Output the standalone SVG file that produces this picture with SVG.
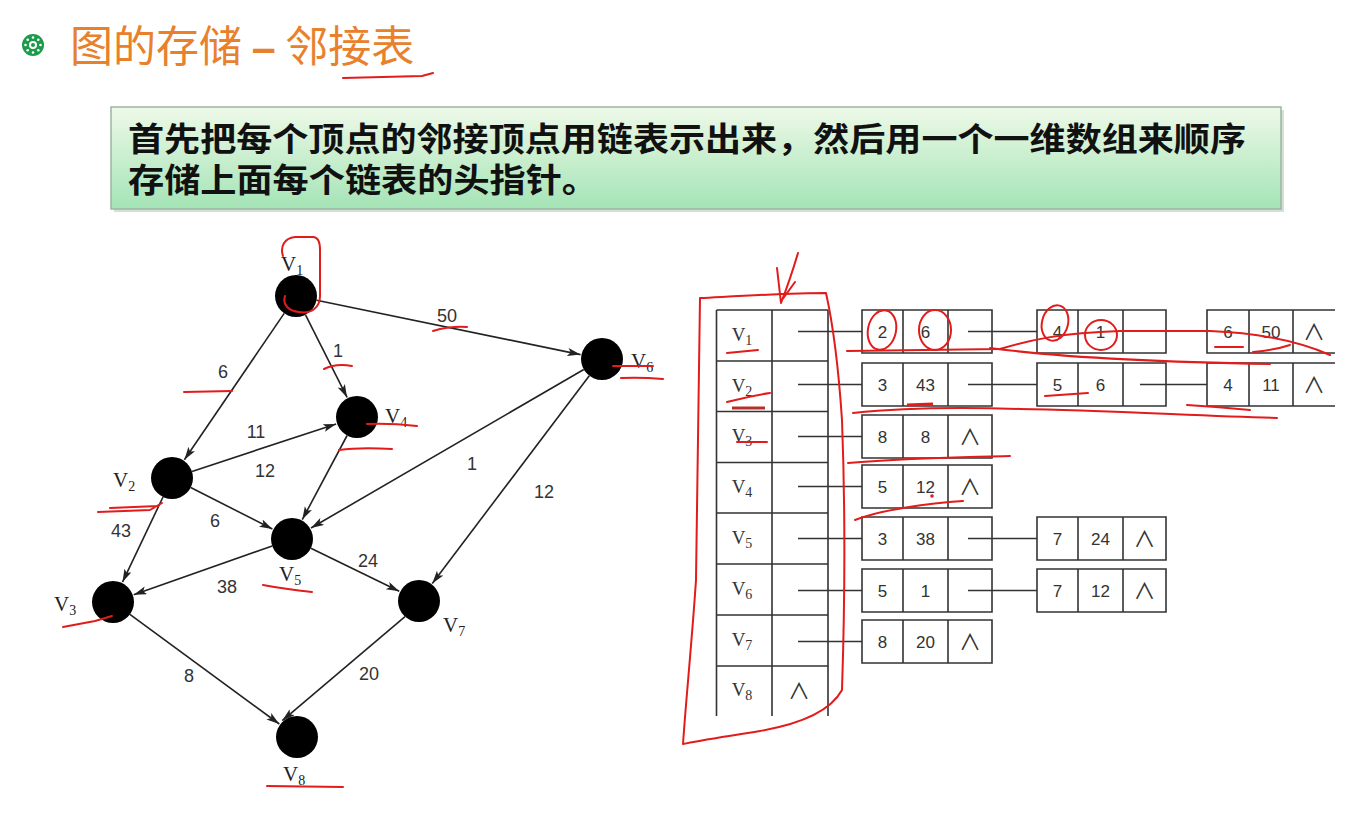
<svg xmlns="http://www.w3.org/2000/svg" width="1350" height="831" viewBox="0 0 1350 831">
<defs>
<linearGradient id="gbox" x1="0" y1="0" x2="0" y2="1">
<stop offset="0" stop-color="#eef9e8"/>
<stop offset="1" stop-color="#a4e4b6"/>
</linearGradient>
<marker id="arr" markerUnits="userSpaceOnUse" markerWidth="14" markerHeight="10" refX="13" refY="4" orient="auto">
<path d="M0,0 L13,4 L0,8 L3,4 z" fill="#222"/>
</marker>
</defs>
<style>
.edge{stroke:#222;stroke-width:1.6;fill:none;marker-end:url(#arr)}
.node{fill:#000}
.vl{font-family:"Liberation Serif",serif;font-size:21px;fill:#222}
.sub{font-size:14px}
.w{font-family:"Liberation Sans",sans-serif;font-size:18px;fill:#333;text-anchor:middle}
.tl{stroke:#333;stroke-width:1.6;fill:none}
.tv{font-family:"Liberation Serif",serif;font-size:19px;fill:#333;text-anchor:middle}
.tn{font-family:"Liberation Sans",sans-serif;font-size:17px;fill:#333;text-anchor:middle}
.nil{font-family:"Noto Sans CJK SC",sans-serif;font-size:22px;fill:#333;text-anchor:middle}
.red{stroke:#e21b1b;stroke-width:2;fill:none;stroke-linecap:round;stroke-linejoin:round}
.cjk{font-family:"Noto Sans CJK SC",sans-serif}
</style>
<rect width="1350" height="831" fill="#fff"/>

<g id="header">
<circle cx="33" cy="45" r="11" fill="#1c9b4c"/>
<circle cx="33" cy="45" r="4" fill="#fff"/>
<circle cx="33" cy="45" r="2" fill="#1c9b4c"/>
<g fill="#fff">
<circle cx="33" cy="37.5" r="1.3"/><circle cx="33" cy="52.5" r="1.3"/>
<circle cx="25.5" cy="45" r="1.3"/><circle cx="40.5" cy="45" r="1.3"/>
<circle cx="27.7" cy="39.7" r="1.3"/><circle cx="38.3" cy="39.7" r="1.3"/>
<circle cx="27.7" cy="50.3" r="1.3"/><circle cx="38.3" cy="50.3" r="1.3"/>
</g>
<text x="70" y="62" class="cjk" font-size="43" fill="#e8812c">图的存储 <tspan font-family="Liberation Sans" font-weight="bold">–</tspan> 邻接表</text>
<path class="red" d="M343,78 Q385,77 422,76 L433,73"/>
</g>

<g id="description">
<rect x="114" y="110" width="1170" height="102" fill="#b9c9bb" opacity="0.6"/>
<rect x="111" y="107" width="1170" height="102" fill="url(#gbox)" stroke="#9db59f" stroke-width="1.5"/>
<text class="cjk" font-size="33" font-weight="bold" fill="#111"><tspan x="128" y="151" textLength="1118" lengthAdjust="spacingAndGlyphs">首先把每个顶点的邻接顶点用链表示出来，然后用一个一维数组来顺序</tspan><tspan x="128" y="192" textLength="470" lengthAdjust="spacingAndGlyphs">存储上面每个链表的头指针。</tspan></text>
</g>

<g id="connectors">
<line class="edge" x1="284.2" y1="313.4" x2="184.4" y2="459.8"/>
<line class="edge" x1="305.5" y1="314.8" x2="347.1" y2="397.4"/>
<line class="edge" x1="316.6" y1="300.2" x2="580.5" y2="354.6"/>
<line class="edge" x1="192" y1="471.4" x2="336.1" y2="423.9"/>
<line class="edge" x1="190.7" y1="487.5" x2="272.4" y2="529"/>
<line class="edge" x1="163" y1="497" x2="122.5" y2="582.1"/>
<line class="edge" x1="347.1" y1="435.5" x2="302.3" y2="519.6"/>
<line class="edge" x1="583.8" y1="369.5" x2="311" y2="528"/>
<line class="edge" x1="589.3" y1="375.7" x2="432.3" y2="583.5"/>
<line class="edge" x1="272.2" y1="546" x2="133.7" y2="594.7"/>
<line class="edge" x1="310.9" y1="548.2" x2="399.2" y2="591.3"/>
<line class="edge" x1="129.9" y1="614.4" x2="279.3" y2="724"/>
<line class="edge" x1="405" y1="616.6" x2="282.3" y2="720.6"/>
<text class="w" x="447" y="322">50</text>
<text class="w" x="338" y="357">1</text>
<text class="w" x="223" y="378">6</text>
<text class="w" x="256" y="438">11</text>
<text class="w" x="265" y="477">12</text>
<text class="w" x="215" y="527">6</text>
<text class="w" x="121" y="537">43</text>
<text class="w" x="472" y="470">1</text>
<text class="w" x="544" y="498">12</text>
<text class="w" x="368" y="567">24</text>
<text class="w" x="227" y="593">38</text>
<text class="w" x="189" y="682">8</text>
<text class="w" x="369" y="680">20</text>
</g>

<g id="v1"><circle class="node" cx="296" cy="296" r="21"/><text class="vl" x="281" y="271">V<tspan class="sub" dy="4">1</tspan></text></g>
<g id="v2"><circle class="node" cx="172" cy="478" r="21"/><text class="vl" x="113" y="487">V<tspan class="sub" dy="4">2</tspan></text></g>
<g id="v3"><circle class="node" cx="113" cy="602" r="21"/><text class="vl" x="54" y="611">V<tspan class="sub" dy="4">3</tspan></text></g>
<g id="v4"><circle class="node" cx="357" cy="417" r="21"/><text class="vl" x="385" y="423">V<tspan class="sub" dy="4">4</tspan></text></g>
<g id="v5"><circle class="node" cx="292" cy="539" r="21"/><text class="vl" x="279" y="581">V<tspan class="sub" dy="4">5</tspan></text></g>
<g id="v6"><circle class="node" cx="602" cy="359" r="21"/><text class="vl" x="631" y="368">V<tspan class="sub" dy="4">6</tspan></text></g>
<g id="v7"><circle class="node" cx="419" cy="601" r="21"/><text class="vl" x="443" y="632">V<tspan class="sub" dy="4">7</tspan></text></g>
<g id="v8"><circle class="node" cx="297" cy="737" r="21"/><text class="vl" x="283" y="781">V<tspan class="sub" dy="4">8</tspan></text></g>

<g id="head-array">
<path class="tl" d="M716.5,310 V716 M772,310 V716 M828,310 V716 M716.5,310 H828 M716.5,361 H828 M716.5,411.5 H828 M716.5,462.5 H828 M716.5,513 H828 M716.5,564 H828 M716.5,615 H828 M716.5,666 H828"/>
<text class="tv" x="742" y="341">V<tspan class="sub" dy="4">1</tspan></text>
<text class="tv" x="742" y="392">V<tspan class="sub" dy="4">2</tspan></text>
<text class="tv" x="742" y="442">V<tspan class="sub" dy="4">3</tspan></text>
<text class="tv" x="742" y="493">V<tspan class="sub" dy="4">4</tspan></text>
<text class="tv" x="742" y="544">V<tspan class="sub" dy="4">5</tspan></text>
<text class="tv" x="742" y="595">V<tspan class="sub" dy="4">6</tspan></text>
<text class="tv" x="742" y="646">V<tspan class="sub" dy="4">7</tspan></text>
<text class="tv" x="742" y="696">V<tspan class="sub" dy="4">8</tspan></text>
<text class="nil" x="799" y="699">∧</text>
</g>

<g id="pointers">
<path class="tl" d="M798,331.5 H862 M798,384.5 H862 M798,436.5 H862 M798,486.5 H862 M798,538.5 H862 M798,590.5 H862 M798,641.5 H862"/>
<path class="tl" d="M968,331.5 H1037 M968,384.5 H1037 M968,538.5 H1037 M968,590.5 H1037 M1140,384.5 H1207"/>
</g>

<g id="list-v1">
<path class="tl" d="M862,310 H992 V353 H862 Z M903,310 V353 M948,310 V353"/>
<text class="tn" x="882.5" y="338">2</text><text class="tn" x="925.5" y="338">6</text>
<path class="tl" d="M1037,310 H1166 V353 H1037 Z M1078,310 V353 M1123,310 V353"/>
<text class="tn" x="1057.5" y="338">4</text><text class="tn" x="1100.5" y="338">1</text>
<path class="tl" d="M1335,310 H1207 V353 H1335 M1249,310 V353 M1293,310 V353"/>
<text class="tn" x="1228" y="338">6</text><text class="tn" x="1271" y="338">50</text><text class="nil" x="1314" y="340">∧</text>
</g>
<g id="list-v2">
<path class="tl" d="M862,363 H992 V406 H862 Z M903,363 V406 M948,363 V406"/>
<text class="tn" x="882.5" y="391">3</text><text class="tn" x="925.5" y="391">43</text>
<path class="tl" d="M1037,363 H1166 V406 H1037 Z M1078,363 V406 M1123,363 V406"/>
<text class="tn" x="1057.5" y="391">5</text><text class="tn" x="1100.5" y="391">6</text>
<path class="tl" d="M1335,363 H1207 V406 H1335 M1249,363 V406 M1293,363 V406"/>
<text class="tn" x="1228" y="391">4</text><text class="tn" x="1271" y="391">11</text><text class="nil" x="1314" y="393">∧</text>
</g>
<g id="list-v3">
<path class="tl" d="M862,415 H992 V458 H862 Z M903,415 V458 M948,415 V458"/>
<text class="tn" x="882.5" y="443">8</text><text class="tn" x="925.5" y="443">8</text><text class="nil" x="970" y="445">∧</text>
</g>
<g id="list-v4">
<path class="tl" d="M862,465 H992 V508 H862 Z M903,465 V508 M948,465 V508"/>
<text class="tn" x="882.5" y="493">5</text><text class="tn" x="925.5" y="493">12</text><text class="nil" x="970" y="495">∧</text>
</g>
<g id="list-v5">
<path class="tl" d="M862,517 H992 V560 H862 Z M903,517 V560 M948,517 V560"/>
<text class="tn" x="882.5" y="545">3</text><text class="tn" x="925.5" y="545">38</text>
<path class="tl" d="M1037,517 H1166 V560 H1037 Z M1078,517 V560 M1123,517 V560"/>
<text class="tn" x="1057.5" y="545">7</text><text class="tn" x="1100.5" y="545">24</text><text class="nil" x="1144.5" y="547">∧</text>
</g>
<g id="list-v6">
<path class="tl" d="M862,569 H992 V612 H862 Z M903,569 V612 M948,569 V612"/>
<text class="tn" x="882.5" y="597">5</text><text class="tn" x="925.5" y="597">1</text>
<path class="tl" d="M1037,569 H1166 V612 H1037 Z M1078,569 V612 M1123,569 V612"/>
<text class="tn" x="1057.5" y="597">7</text><text class="tn" x="1100.5" y="597">12</text><text class="nil" x="1144.5" y="599">∧</text>
</g>
<g id="list-v7">
<path class="tl" d="M862,620 H992 V663 H862 Z M903,620 V663 M948,620 V663"/>
<text class="tn" x="882.5" y="648">8</text><text class="tn" x="925.5" y="648">20</text><text class="nil" x="970" y="650">∧</text>
</g>

<g id="annotations">
<path class="red" d="M283,256 C280,247 284,238 295,237 L313,237 C319,237 320,243 320,250 L320,296 C320,308 311,314 299,312 C289,311 282,305 285,296"/>
<path class="red" d="M184,392 L232,391"/>
<path class="red" d="M324,369 Q336,363 352,366"/>
<path class="red" d="M433,331 Q450,326 467,327"/>
<path class="red" d="M613,366 L653,366 M621,378 Q640,377 663,379"/>
<path class="red" d="M367,424 Q390,423 417,426 M339,450 Q360,447 392,449"/>
<path class="red" d="M98,512 L150,510 L162,503 M110,508 L158,506"/>
<path class="red" d="M263,585 Q285,589 312,592"/>
<path class="red" d="M63,627 L95,621 L112,616"/>
<path class="red" d="M267,786 L343,787"/>
<path class="red" d="M700,298 C740,296 790,293 826,293 C832,320 838,360 842,420 C845,500 845,600 842,690 C830,712 800,724 760,731 C730,736 700,740 683,744 C686,700 692,640 696,580 C698,480 699,380 700,298"/>
<path class="red" d="M798,253 Q790,280 781,303 M777,268 L781,303 M795,282 L782,300"/>
<path class="red" d="M727,353 L758,350 M727,402 Q750,396 770,393 M737,442 L767,442"/>
<path stroke="#b5302a" stroke-width="3" fill="none" d="M732,408 L765,408"/>
<ellipse class="red" cx="882" cy="330" rx="14" ry="20" transform="rotate(12 882 330)"/>
<ellipse class="red" cx="935" cy="330" rx="16" ry="20"/>
<ellipse class="red" cx="1055" cy="323" rx="13" ry="18" transform="rotate(15 1055 323)"/>
<ellipse class="red" cx="1101" cy="335" rx="16" ry="15"/>
<path class="red" d="M847,351 L1000,349 C1030,340 1060,333 1120,331 L1210,331 C1260,333 1300,342 1330,355"/>
<path class="red" d="M990,348 C1050,356 1150,362 1270,364"/>
<path class="red" d="M1215,347 L1243,347 M1253,352 Q1275,350 1290,345"/>
<path class="red" d="M853,413 C900,408 960,407 1020,409 C1100,410 1200,416 1277,418"/>
<path class="red" d="M1045,396 L1088,393 M1187,405 Q1220,407 1250,410"/>
<path stroke="#e21b1b" stroke-width="3" fill="none" d="M907,405 L933,404"/>
<path class="red" d="M848,463 C900,458 960,457 1010,456"/>
<path class="red" d="M855,520 C880,510 930,503 963,501"/>
<circle cx="932" cy="496" r="1.8" fill="#e21b1b"/>
</g>
</svg>
